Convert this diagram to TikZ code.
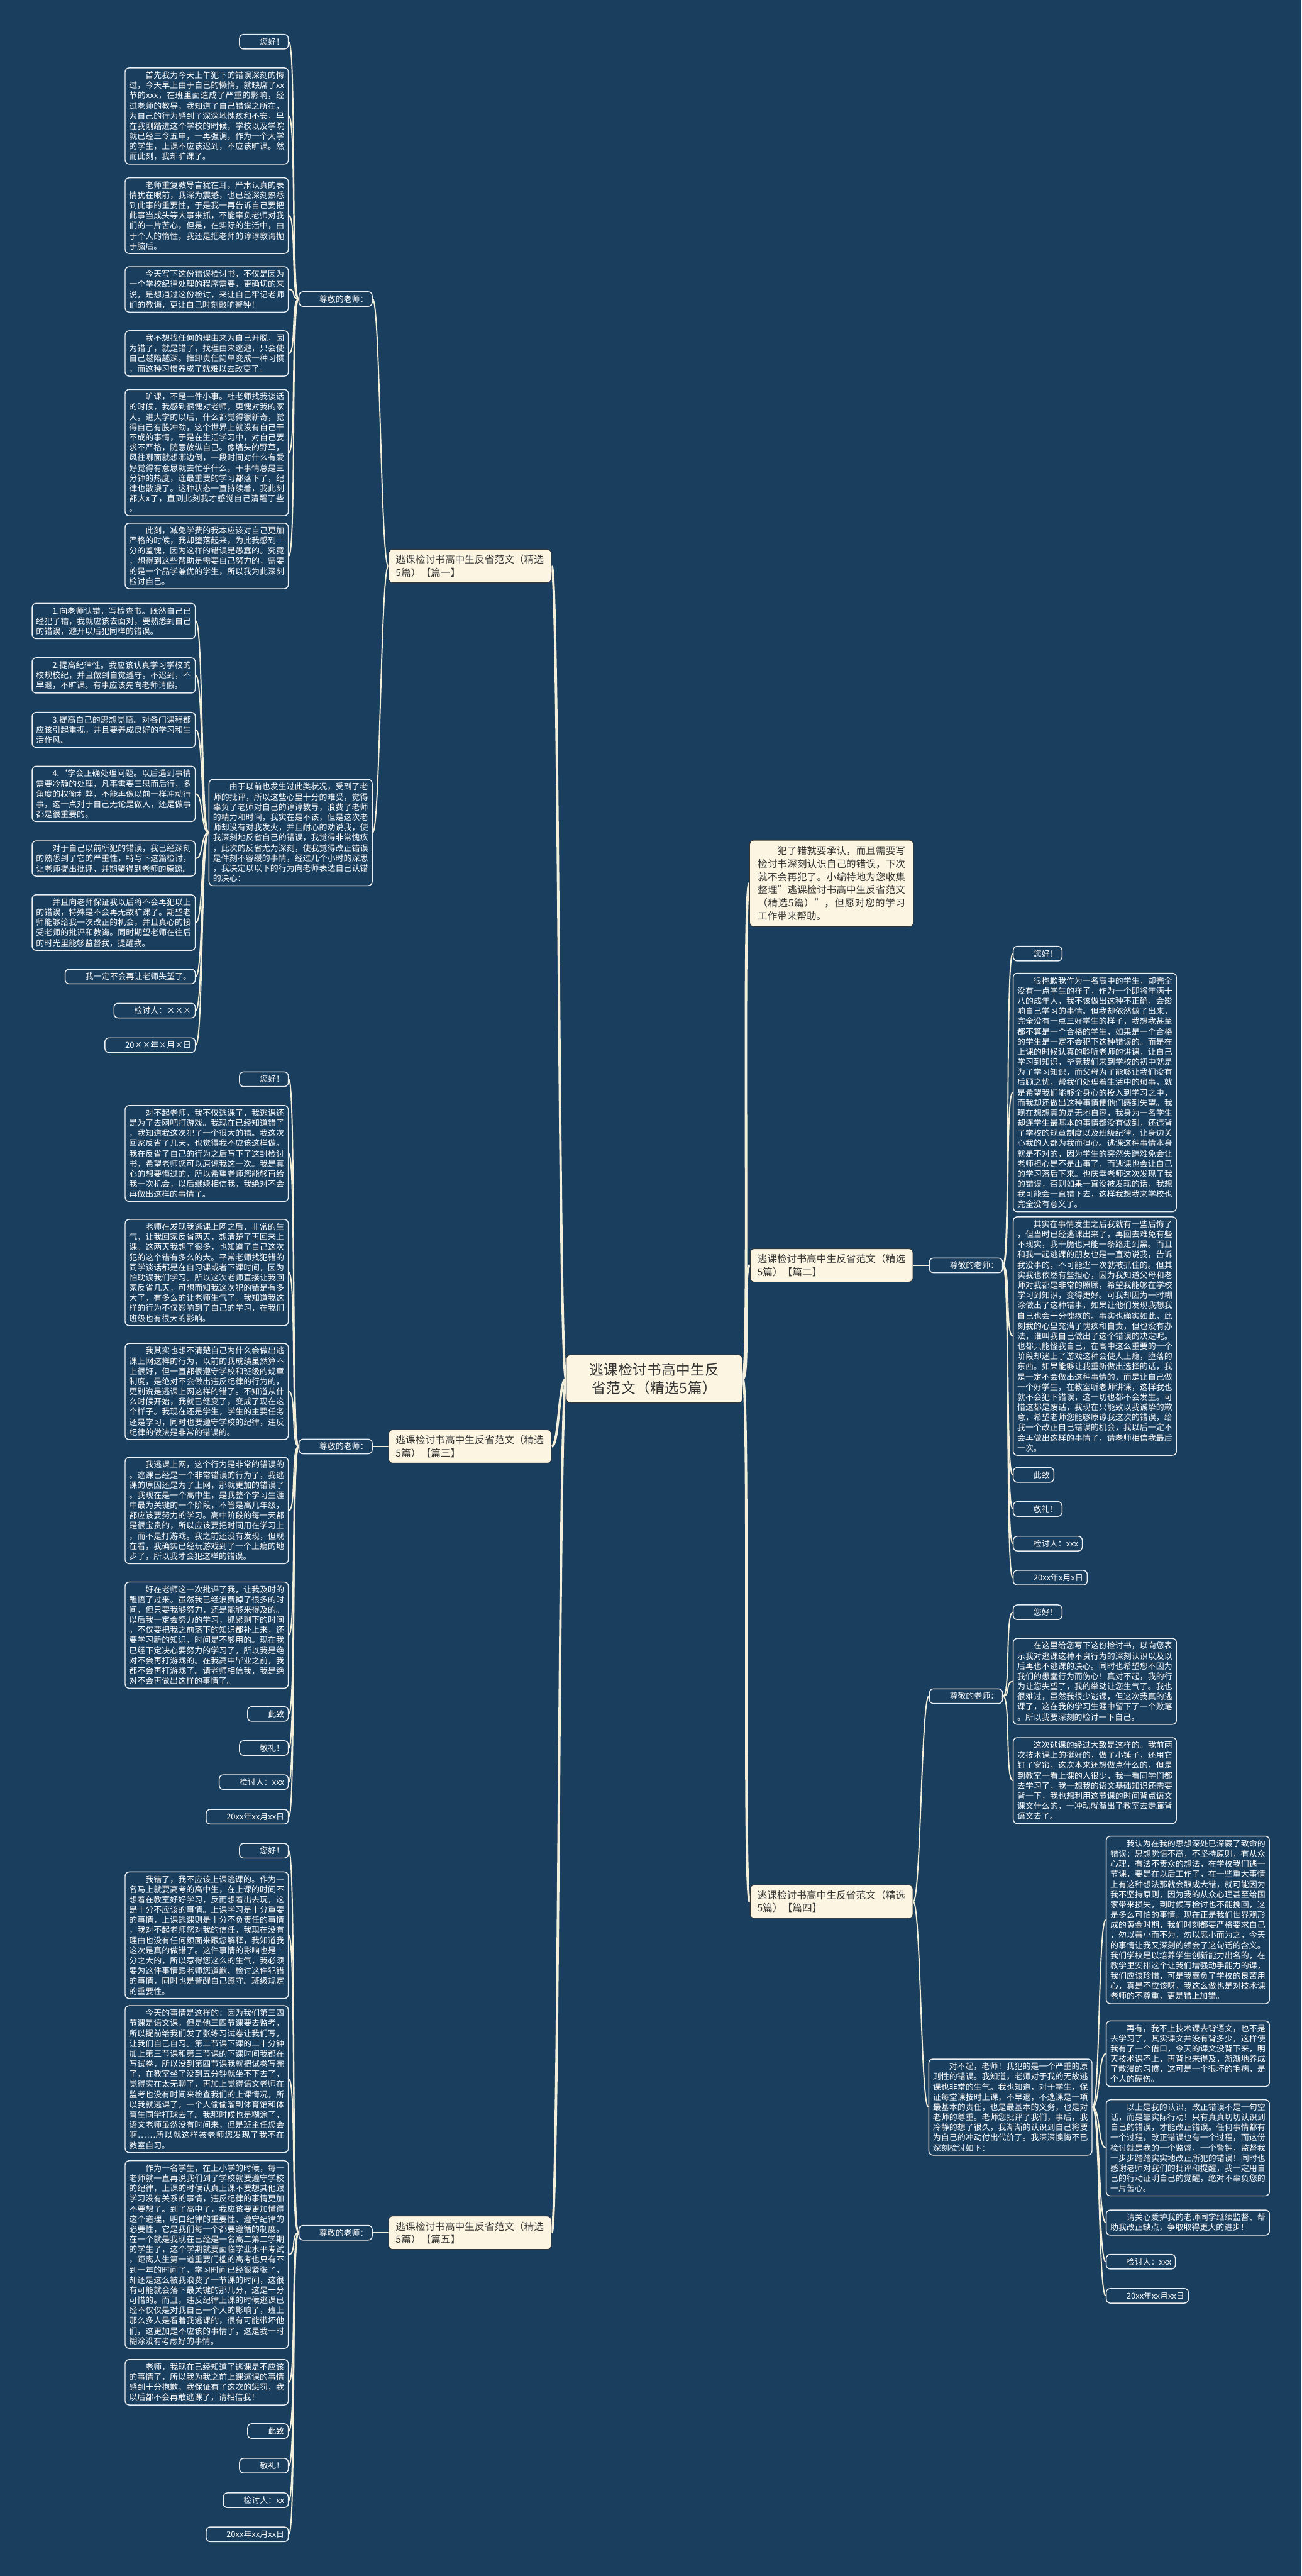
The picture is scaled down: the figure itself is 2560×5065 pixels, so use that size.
\documentclass[tikz,border=0pt]{standalone}
\usepackage{fontspec}
\setmainfont{Noto Sans CJK SC}
\usetikzlibrary{positioning,backgrounds}
\definecolor{bgblue}{HTML}{1A3E5E}
\definecolor{cream}{HTML}{FBF5E1}
\definecolor{wire}{HTML}{F4EFDA}
\definecolor{inkgray}{HTML}{333333}
\newcommand{\indt}{\hspace*{2em}}

% break between any two Chinese characters, punctuation included
\XeTeXinterchartokenstate=1
\newXeTeXintercharclass\cjkcls
\newcount\cjkc
\cjkc="3000 \loop \XeTeXcharclass\cjkc=\cjkcls \advance\cjkc by 1 \ifnum\cjkc<"3040 \repeat
\cjkc="4E00 \loop \XeTeXcharclass\cjkc=\cjkcls \advance\cjkc by 1 \ifnum\cjkc<"A000 \repeat
\cjkc="FF00 \loop \XeTeXcharclass\cjkc=\cjkcls \advance\cjkc by 1 \ifnum\cjkc<"FFF0 \repeat
\XeTeXcharclass"2026=\cjkcls
\XeTeXinterchartoks\cjkcls\cjkcls={\hskip0pt plus 0.6pt\relax}
\XeTeXinterchartoks 0 \cjkcls={\hskip0pt plus 0.6pt\relax}
\XeTeXinterchartoks\cjkcls 0 ={\hskip0pt plus 0.6pt\relax}

\tikzset{
  leafbox/.style={draw=white!92!bgblue, line width=0.9pt, rounded corners=4pt, fill=bgblue,
    text=white, font=\fontsize{8}{10}\selectfont, inner xsep=4pt, inner ysep=3.5pt},
  parabox/.style={leafbox, text width=152.5pt, align=justify},
  topicbox/.style={draw=black!80, line width=0.6pt, rounded corners=4pt, fill=cream,
    text=inkgray, font=\fontsize{9.7}{12.5}\selectfont, text width=146pt, align=left,
    inner xsep=7pt, inner ysep=5.5pt},
  notebox/.style={topicbox, font=\fontsize{9.6}{12.8}\selectfont, text width=145pt,
    align=justify, inner xsep=8pt, inner ysep=6pt},
  rootbox/.style={topicbox, font=\fontsize{14}{18}\selectfont, text width=155pt,
    align=center, inner xsep=9pt, inner ysep=8pt},
  trunk/.style={draw=wire, line width=2.4pt},
  twig/.style={draw=wire, line width=1.2pt},
}

\begin{document}
\begin{tikzpicture}[x=0.5pt,y=-0.5pt]
  \useasboundingbox (0,0) rectangle (2560,5065);

  % centre and the five topics
  \node[rootbox] (root) at (1287,2711) {逃课检讨书高中生反省范文（精选5篇）};
  \node[topicbox, anchor=east] (t1) at (1085,1113) {逃课检讨书高中生反省范文（精选5篇）【篇一】};
  \node[topicbox, anchor=east] (t3) at (1085,2844) {逃课检讨书高中生反省范文（精选5篇）【篇三】};
  \node[topicbox, anchor=east] (t5) at (1085,4390) {逃课检讨书高中生反省范文（精选5篇）【篇五】};
  \node[topicbox, anchor=west] (t2) at (1475,2488) {逃课检讨书高中生反省范文（精选5篇）【篇二】};
  \node[topicbox, anchor=west] (t4) at (1475,3739) {逃课检讨书高中生反省范文（精选5篇）【篇四】};
  \node[notebox, anchor=west] (note) at (1474,1737) {\indt 犯了错就要承认，而且需要写检讨书深刻认识自己的错误，下次就不会再犯了。小编特地为您收集整理"逃课检讨书高中生反省范文（精选5篇）"，但愿对您的学习工作带来帮助。};

  % 篇一
  \node[leafbox, anchor=east] (h1) at (733,588) {\indt 尊敬的老师：};
  \node[leafbox, anchor=east] (a0) at (568,82) {\indt 您好！};
  \node[parabox, anchor=east] (a1) at (568,228) {\indt 首先我为今天上午犯下的错误深刻的悔过，今天早上由于自己的懒惰，就缺席了xx节的xxx，在班里面造成了严重的影响，经过老师的教导，我知道了自己错误之所在，为自己的行为感到了深深地愧疚和不安，早在我刚踏进这个学校的时候，学校以及学院就已经三令五申，一再强调，作为一个大学的学生，上课不应该迟到，不应该旷课。然而此刻，我却旷课了。};
  \node[parabox, anchor=east] (a2) at (568,424) {\indt 老师重复教导言犹在耳，严肃认真的表情犹在眼前，我深为震撼，也已经深刻熟悉到此事的重要性，于是我一再告诉自己要把此事当成头等大事来抓，不能辜负老师对我们的一片苦心，但是，在实际的生活中，由于个人的惰性，我还是把老师的谆谆教诲抛于脑后。};
  \node[parabox, anchor=east] (a3) at (568,569) {\indt 今天写下这份错误检讨书，不仅是因为一个学校纪律处理的程序需要，更确切的来说，是想通过这份检讨，来让自己牢记老师们的教诲，更让自己时刻敲响警钟！};
  \node[parabox, anchor=east] (a4) at (568,695) {\indt 我不想找任何的理由来为自己开脱，因为错了，就是错了，找理由来逃避，只会使自己越陷越深。推卸责任简单变成一种习惯，而这种习惯养成了就难以去改变了。};
  \node[parabox, anchor=east] (a5) at (568,890) {\indt 旷课，不是一件小事。杜老师找我谈话的时候，我感到很愧对老师，更愧对我的家人。进大学的以后，什么都觉得很新奇，觉得自己有股冲劲，这个世界上就没有自己干不成的事情，于是在生活学习中，对自己要求不严格，随意放纵自己。像墙头的野草，风往哪面就想哪边倒，一段时间对什么有爱好觉得有意思就去忙乎什么，干事情总是三分钟的热度，连最重要的学习都落下了，纪律也散漫了。这种状态一直持续着，我此刻都大x了，直到此刻我才感觉自己清醒了些。};
  \node[parabox, anchor=east] (a6) at (568,1093) {\indt 此刻，减免学费的我本应该对自己更加严格的时候，我却堕落起来，为此我感到十分的羞愧，因为这样的错误是愚蠢的。究竟，想得到这些帮助是需要自己努力的，需要的是一个品学兼优的学生，所以我为此深刻检讨自己。};
  \node[parabox, anchor=east] (g1) at (733,1637) {\indt 由于以前也发生过此类状况，受到了老师的批评，所以这些心里十分的难受，觉得辜负了老师对自己的谆谆教导，浪费了老师的精力和时间，我实在是不该，但是这次老师却没有对我发火，并且耐心的劝说我，使我深刻地反省自己的错误，我觉得非常愧疚，此次的反省尤为深刻，使我觉得改正错误是件刻不容缓的事情，经过几个小时的深思，我决定以以下的行为向老师表达自己认错的决心：};
  \node[parabox, anchor=east] (b1) at (385,1221) {\indt 1.向老师认错，写检查书。既然自己已经犯了错，我就应该去面对，要熟悉到自己的错误，避开以后犯同样的错误。};
  \node[parabox, anchor=east] (b2) at (385,1328) {\indt 2.提高纪律性。我应该认真学习学校的校规校纪，并且做到自觉遵守。不迟到，不早退，不旷课。有事应该先向老师请假。};
  \node[parabox, anchor=east] (b3) at (385,1435) {\indt 3.提高自己的思想觉悟。对各门课程都应该引起重视，并且要养成良好的学习和生活作风。};
  \node[parabox, anchor=east] (b4) at (385,1561) {\indt 4.‘学会正确处理问题。以后遇到事情需要冷静的处理，凡事需要三思而后行，多角度的权衡利弊，不能再像以前一样冲动行事，这一点对于自己无论是做人，还是做事都是很重要的。};
  \node[parabox, anchor=east] (b5) at (385,1688) {\indt 对于自己以前所犯的错误，我已经深刻的熟悉到了它的严重性，特写下这篇检讨，让老师提出批评，并期望得到老师的原谅。};
  \node[parabox, anchor=east] (b6) at (385,1814) {\indt 并且向老师保证我以后将不会再犯以上的错误，特殊是不会再无故旷课了。期望老师能够给我一次改正的机会，并且真心的接受老师的批评和教诲。同时期望老师在往后的时光里能够监督我，提醒我。};
  \node[leafbox, anchor=east] (b7) at (385,1920) {\indt 我一定不会再让老师失望了。};
  \node[leafbox, anchor=east] (b8) at (385,1987) {\indt 检讨人：×××};
  \node[leafbox, anchor=east] (b9) at (385,2055) {\indt 20××年×月×日};

  % 篇二
  \node[leafbox, anchor=west] (h2) at (1827,2488) {\indt 尊敬的老师：};
  \node[leafbox, anchor=west] (c0) at (1992,1875) {\indt 您好！};
  \node[parabox, anchor=west] (c1) at (1992,2148) {\indt 很抱歉我作为一名高中的学生，却完全没有一点学生的样子，作为一个即将年满十八的成年人，我不该做出这种不正确，会影响自己学习的事情。但我却依然做了出来，完全没有一点三好学生的样子，我想我甚至都不算是一个合格的学生，如果是一个合格的学生是一定不会犯下这种错误的。而是在上课的时候认真的聆听老师的讲课，让自己学习到知识，毕竟我们来到学校的初中就是为了学习知识，而父母为了能够让我们没有后顾之忧，帮我们处理着生活中的琐事，就是希望我们能够全身心的投入到学习之中，而我却还做出这种事情使他们感到失望。我现在想想真的是无地自容，我身为一名学生却连学生最基本的事情都没有做到，还违背了学校的规章制度以及班级纪律，让身边关心我的人都为我而担心。逃课这种事情本身就是不对的，因为学生的突然失踪难免会让老师担心是不是出事了，而逃课也会让自己的学习落后下来。也庆幸老师这次发现了我的错误，否则如果一直没被发现的话，我想我可能会一直错下去，这样我想我来学校也完全没有意义了。};
  \node[parabox, anchor=west] (c2) at (1992,2627) {\indt 其实在事情发生之后我就有一些后悔了，但当时已经逃课出来了，再回去难免有些不现实，我干脆也只能一条路走到黑。而且和我一起逃课的朋友也是一直劝说我，告诉我没事的，不可能逃一次就被抓住的。但其实我也依然有些担心，因为我知道父母和老师对我都是非常的照顾，希望我能够在学校学习到知识，变得更好。可我却因为一时糊涂做出了这种错事，如果让他们发现我想我自己也会十分愧疚的。事实也确实如此，此刻我的心里充满了愧疚和自责，但也没有办法，谁叫我自己做出了这个错误的决定呢。也都只能怪我自己，在高中这么重要的一个阶段却迷上了游戏这种会使人上瘾，堕落的东西。如果能够让我重新做出选择的话，我是一定不会做出这种事情的，而是让自己做一个好学生，在教室听老师讲课，这样我也就不会犯下错误，这一切也都不会发生。可惜这都是废话，我现在只能致以我诚挚的歉意，希望老师您能够原谅我这次的错误，给我一个改正自己错误的机会，我以后一定不会再做出这样的事情了，请老师相信我最后一次。};
  \node[leafbox, anchor=west] (c3) at (1992,2900) {\indt 此致};
  \node[leafbox, anchor=west] (c4) at (1992,2967) {\indt 敬礼！};
  \node[leafbox, anchor=west] (c5) at (1992,3035) {\indt 检讨人：xxx};
  \node[leafbox, anchor=west] (c6) at (1992,3102) {\indt 20xx年x月x日};

  % 篇三
  \node[leafbox, anchor=east] (h3) at (733,2844) {\indt 尊敬的老师：};
  \node[leafbox, anchor=east] (d0) at (568,2122) {\indt 您好！};
  \node[parabox, anchor=east] (d1) at (568,2268) {\indt 对不起老师，我不仅逃课了，我逃课还是为了去网吧打游戏。我现在已经知道错了，我知道我这次犯了一个很大的错。我这次回家反省了几天，也觉得我不应该这样做。我在反省了自己的行为之后写下了这封检讨书，希望老师您可以原谅我这一次。我是真心的想要悔过的，所以希望老师您能够再给我一次机会，以后继续相信我，我绝对不会再做出这样的事情了。};
  \node[parabox, anchor=east] (d2) at (568,2502) {\indt 老师在发现我逃课上网之后，非常的生气，让我回家反省两天，想清楚了再回来上课。这两天我想了很多，也知道了自己这次犯的这个错有多么的大。平常老师找犯错的同学谈话都是在自习课或者下课时间，因为怕耽误我们学习。所以这次老师直接让我回家反省几天，可想而知我这次犯的错是有多大了，有多么的让老师生气了。我知道我这样的行为不仅影响到了自己的学习，在我们班级也有很大的影响。};
  \node[parabox, anchor=east] (d3) at (568,2736) {\indt 我其实也想不清楚自己为什么会做出逃课上网这样的行为，以前的我成绩虽然算不上很好，但一直都很遵守学校和班级的规章制度，是绝对不会做出违反纪律的行为的，更别说是逃课上网这样的错了。不知道从什么时候开始，我就已经变了，变成了现在这个样子。我现在还是学生，学生的主要任务还是学习，同时也要遵守学校的纪律，违反纪律的做法是非常的错误的。};
  \node[parabox, anchor=east] (d4) at (568,2970) {\indt 我逃课上网，这个行为是非常的错误的。逃课已经是一个非常错误的行为了，我逃课的原因还是为了上网，那就更加的错误了。我现在是一个高中生，是我整个学习生涯中最为关键的一个阶段，不管是高几年级，都应该要努力的学习。高中阶段的每一天都是很宝贵的，所以应该要把时间用在学习上，而不是打游戏。我之前还没有发现，但现在看，我确实已经玩游戏到了一个上瘾的地步了，所以我才会犯这样的错误。};
  \node[parabox, anchor=east] (d5) at (568,3215) {\indt 好在老师这一次批评了我，让我及时的醒悟了过来。虽然我已经浪费掉了很多的时间，但只要我够努力，还是能够来得及的。以后我一定会努力的学习，抓紧剩下的时间。不仅要把我之前落下的知识都补上来，还要学习新的知识，时间是不够用的。现在我已经下定决心要努力的学习了，所以我是绝对不会再打游戏的。在我高中毕业之前，我都不会再打游戏了。请老师相信我，我是绝对不会再做出这样的事情了。};
  \node[leafbox, anchor=east] (d6) at (568,3370) {\indt 此致};
  \node[leafbox, anchor=east] (d7) at (568,3437) {\indt 敬礼！};
  \node[leafbox, anchor=east] (d8) at (568,3504) {\indt 检讨人：xxx};
  \node[leafbox, anchor=east] (d9) at (568,3572) {\indt 20xx年xx月xx日};

  % 篇四
  \node[leafbox, anchor=west] (h4) at (1827,3335) {\indt 尊敬的老师：};
  \node[leafbox, anchor=west] (e0) at (1992,3170) {\indt 您好！};
  \node[parabox, anchor=west] (e1) at (1992,3306) {\indt 在这里给您写下这份检讨书，以向您表示我对逃课这种不良行为的深刻认识以及以后再也不逃课的决心。同时也希望您不因为我们的愚蠢行为而伤心！真对不起，我的行为让您失望了，我的举动让您生气了。我也很难过，虽然我很少逃课，但这次我真的逃课了，这在我的学习生涯中留下了一个败笔。所以我要深刻的检讨一下自己。};
  \node[parabox, anchor=west] (e2) at (1992,3501) {\indt 这次逃课的经过大致是这样的。我前两次技术课上的挺好的，做了小锤子，还用它钉了窗帘，这次本来还想做点什么的，但是到教室一看上课的人很少，我一看同学们都去学习了，我一想我的语文基础知识还需要背一下，我也想利用这节课的时间背点语文课文什么的，一冲动就溜出了教室去走廊背语文去了。};
  \node[parabox, anchor=west] (g4) at (1826,4143) {\indt 对不起，老师！我犯的是一个严重的原则性的错误。我知道，老师对于我的无故逃课也非常的生气。我也知道，对于学生，保证每堂课按时上课，不早退，不逃课是一项最基本的责任，也是最基本的义务，也是对老师的尊重。老师您批评了我们，事后，我冷静的想了很久，我渐渐的认识到自己将要为自己的冲动付出代价了。我深深懊悔不已深刻检讨如下：};
  \node[parabox, anchor=west] (f1) at (2175,3775) {\indt 我认为在我的思想深处已深藏了致命的错误：思想觉悟不高，不坚持原则，有从众心理，有法不责众的想法，在学校我们逃一节课，要是在以后工作了，在一些重大事情上有这种想法那就会酿成大错，就可能因为我不坚持原则，因为我的从众心理甚至给国家带来损失，到时候写检讨也不能挽回，这是多么可怕的事情。现在正是我们世界观形成的黄金时期，我们时刻都要严格要求自己，勿以善小而不为，勿以恶小而为之，今天的事情让我又深刻的领会了这句话的含义。我们学校是以培养学生创新能力出名的，在教学里安排这个让我们增强动手能力的课，我们应该珍惜，可是我辜负了学校的良苦用心，真是不应该呀，我这么做也是对技术课老师的不尊重，更是错上加错。};
  \node[parabox, anchor=west] (f2) at (2175,4038) {\indt 再有，我不上技术课去背语文，也不是去学习了，其实课文并没有背多少，这样使我有了一个借口，今天的课文没背下来，明天技术课不上，再背也来得及，渐渐地养成了散漫的习惯，这可是一个很坏的毛病，是个人的硬伤。};
  \node[parabox, anchor=west] (f3) at (2175,4223) {\indt 以上是我的认识，改正错误不是一句空话，而是靠实际行动！只有真真切切认识到自己的错误，才能改正错误。任何事情都有一个过程，改正错误也有一个过程，而这份检讨就是我的一个监督，一个警钟，监督我一步步踏踏实实地改正所犯的错误！同时也感谢老师对我们的批评和提醒，我一定用自己的行动证明自己的觉醒，绝对不辜负您的一片苦心。};
  \node[parabox, anchor=west] (f4) at (2175,4370) {\indt 请关心爱护我的老师同学继续监督、帮助我改正缺点，争取取得更大的进步！};
  \node[leafbox, anchor=west] (f5) at (2175,4447) {\indt 检讨人：xxx};
  \node[leafbox, anchor=west] (f6) at (2175,4514) {\indt 20xx年xx月xx日};

  % 篇五
  \node[leafbox, anchor=east] (h5) at (733,4390) {\indt 尊敬的老师：};
  \node[leafbox, anchor=east] (k0) at (568,3639) {\indt 您好！};
  \node[parabox, anchor=east] (k1) at (568,3805) {\indt 我错了，我不应该上课逃课的。作为一名马上就要高考的高中生，在上课的时间不想着在教室好好学习，反而想着出去玩，这是十分不应该的事情。上课学习是十分重要的事情，上课逃课则是十分不负责任的事情，我对不起老师您对我的信任，我现在没有理由也没有任何颜面来跟您解释，我知道我这次是真的做错了。这件事情的影响也是十分之大的，所以惹得您这么的生气，我必须要为这件事情跟老师您道歉、检讨这件犯错的事情，同时也是警醒自己遵守。班级规定的重要性。};
  \node[parabox, anchor=east] (k2) at (568,4088) {\indt 今天的事情是这样的：因为我们第三四节课是语文课，但是他三四节课要去监考，所以提前给我们发了张练习试卷让我们写，让我们自己自习。第二节课下课的二十分钟加上第三节课和第三节课的下课时间我都在写试卷，所以没到第四节课我就把试卷写完了，在教室坐了没到五分钟就坐不下去了，觉得实在太无聊了，再加上觉得语文老师在监考也没有时间来检查我们的上课情况，所以我就逃课了，一个人偷偷溜到体育馆和体育生同学打球去了。我那时候也是糊涂了，语文老师虽然没有时间来，但是班主任您会啊……所以就这样被老师您发现了我不在教室自习。};
  \node[parabox, anchor=east] (k3) at (568,4433) {\indt 作为一名学生，在上小学的时候，每一老师就一直再说我们到了学校就要遵守学校的纪律，上课的时候认真上课不要想其他跟学习没有关系的事情，违反纪律的事情更加不要想了。到了高中了，我应该要更加懂得这个道理，明白纪律的重要性、遵守纪律的必要性，它是我们每一个都要遵循的制度。在一个就是我现在已经是一名高二第二学期的学生了，这个学期就要面临学业水平考试，距离人生第一道重要门槛的高考也只有不到一年的时间了，学习时间已经很紧张了，却还是这么被我浪费了一节课的时间，这很有可能就会落下最关键的那几分，这是十分可惜的。而且，违反纪律上课的时候逃课已经不仅仅是对我自己一个人的影响了，班上那么多人是看着我逃课的，很有可能带坏他们，这更加是不应该的事情了，这是我一时糊涂没有考虑好的事情。};
  \node[parabox, anchor=east] (k4) at (568,4684) {\indt 老师，我现在已经知道了逃课是不应该的事情了，所以我为我之前上课逃课的事情感到十分抱歉，我保证有了这次的惩罚，我以后都不会再敢逃课了，请相信我！};
  \node[leafbox, anchor=east] (k5) at (568,4780) {\indt 此致};
  \node[leafbox, anchor=east] (k6) at (568,4848) {\indt 敬礼！};
  \node[leafbox, anchor=east] (k7) at (568,4916) {\indt 检讨人：xx};
  \node[leafbox, anchor=east] (k8) at (568,4983) {\indt 20xx年xx月xx日};

  % connectors, under the boxes
  \begin{scope}[on background layer]
    \fill[bgblue] (0,0) rectangle (2560,5065);
    \foreach \t in {t1,t3,t5}
      \draw[trunk] (root.west) .. controls +(-15,0) and +(15,0) .. (\t.east);
    \foreach \t in {note,t2,t4}
      \draw[trunk] (root.east) .. controls +(15,0) and +(-15,0) .. (\t.west);
    \foreach \n in {h1,g1}
      \draw[twig] (t1.west) .. controls +(-15,0) and +(15,0) .. (\n.east);
    \foreach \n in {a0,a1,a2,a3,a4,a5,a6}
      \draw[twig] (h1.west) .. controls +(-15,0) and +(15,0) .. (\n.east);
    \foreach \n in {b1,b2,b3,b4,b5,b6,b7,b8,b9}
      \draw[twig] (g1.west) .. controls +(-15,0) and +(15,0) .. (\n.east);
    \draw[twig] (t2.east) .. controls +(15,0) and +(-15,0) .. (h2.west);
    \foreach \n in {c0,c1,c2,c3,c4,c5,c6}
      \draw[twig] (h2.east) .. controls +(15,0) and +(-15,0) .. (\n.west);
    \draw[twig] (t3.west) .. controls +(-15,0) and +(15,0) .. (h3.east);
    \foreach \n in {d0,d1,d2,d3,d4,d5,d6,d7,d8,d9}
      \draw[twig] (h3.west) .. controls +(-15,0) and +(15,0) .. (\n.east);
    \foreach \n in {h4,g4}
      \draw[twig] (t4.east) .. controls +(15,0) and +(-15,0) .. (\n.west);
    \foreach \n in {e0,e1,e2}
      \draw[twig] (h4.east) .. controls +(15,0) and +(-15,0) .. (\n.west);
    \foreach \n in {f1,f2,f3,f4,f5,f6}
      \draw[twig] (g4.east) .. controls +(15,0) and +(-15,0) .. (\n.west);
    \draw[twig] (t5.west) .. controls +(-15,0) and +(15,0) .. (h5.east);
    \foreach \n in {k0,k1,k2,k3,k4,k5,k6,k7,k8}
      \draw[twig] (h5.west) .. controls +(-15,0) and +(15,0) .. (\n.east);
  \end{scope}
\end{tikzpicture}
\end{document}
